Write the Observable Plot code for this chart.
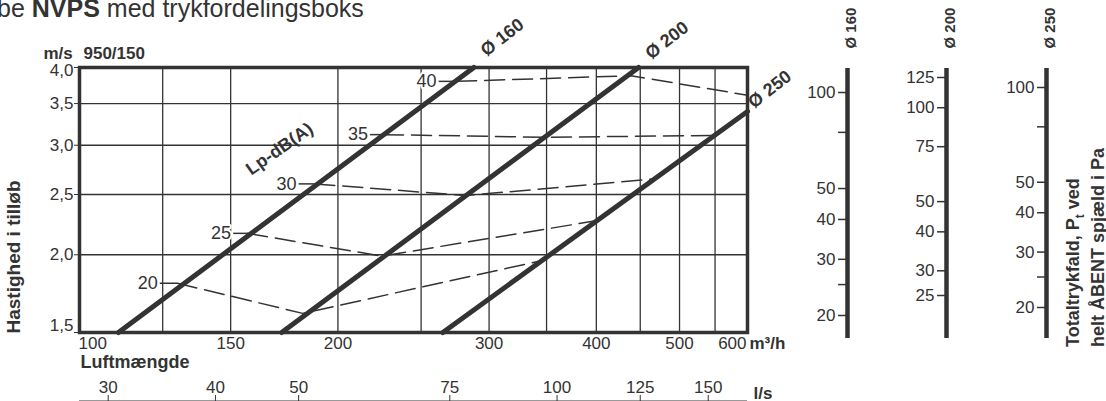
<!DOCTYPE html>
<html><head><meta charset="utf-8">
<script src="https://cdn.jsdelivr.net/npm/d3@7"></script>
<script src="https://cdn.jsdelivr.net/npm/@observablehq/plot@0.6"></script>
<style>
html,body{margin:0;padding:0;background:#fff;}
#wrap{position:relative;width:1106px;height:401px;overflow:hidden;background:#fff;font-family:"Liberation Sans",Arial,sans-serif;color:#333;}
.abs{position:absolute;}
svg{overflow:visible;}
</style></head><body>
<div id="wrap">
 <div id="title" class="abs" style="left:-3px;top:-4px;font-size:25px;line-height:25px;white-space:nowrap;">be <b>NVPS</b> med trykfordelingsboks</div>
 <div id="main" class="abs" style="left:0;top:0"></div>
 <div id="ls" class="abs" style="left:0;top:360px"></div>
 <div id="s0" class="abs" style="left:787px;top:0"></div>
 <div id="s1" class="abs" style="left:886px;top:0"></div>
 <div id="s2" class="abs" style="left:986px;top:0"></div>
 <div id="plabel" class="abs" style="left:1061px;top:347px;transform-origin:0 0;transform:rotate(-90deg);white-space:nowrap;font-weight:bold;font-size:18px;line-height:25px;">Totaltrykfald, P<sub style="font-size:12px;line-height:0">t</sub> ved<br>helt ÅBENT spjæld i Pa</div>
</div>
<script>
// ---- data ----
const xGrid = [125, 150, 200, 250, 300, 350, 400, 450, 500, 550];
const xLabels = [100, 150, 200, 300, 400, 500, 600];
const yTicks = [1.5, 2.0, 2.5, 3.0, 3.5, 4.0];
const yGrid = [2.0, 2.5, 3.0, 3.5];
const lsTicks = [30, 40, 50, 75, 100, 125, 150];

const diameters = [160, 200, 250];
const pipeQ = [[111, 288], [172, 448], [265, 600]];
const pipeV = [[1.5, 4.0], [1.5, 4.0], [1.5, 3.40]];

const lpLevels = [20, 25, 30, 35, 40];
const lpLeaderQ = [124, 151, 180, 218, 262];
const lpQ = [[130, 182, 347], [157, 225, 401], [188, 282, 469], [226, 349, 550], [275, 439, 600]];
const lpV = [[1.80, 1.61, 1.96], [2.165, 1.99, 2.27], [2.60, 2.49, 2.65], [3.12, 3.09, 3.11], [3.80, 3.88, 3.61]];

const p160Ticks = [20, 25, 30, 40, 50, 75, 100];
const p160Labels = ["20", "", "30", "40", "50", "75", "100"];
const p200Ticks = [25, 30, 40, 50, 75, 100, 125];
const p200Labels = ["25", "30", "40", "50", "75", "100", "125"];
const p250Ticks = [20, 25, 30, 40, 50, 75, 100];
const p250Labels = ["20", "", "30", "40", "50", "75", "100"];

// ---- derived tables ----
const ink = "#333";
const font = "'Liberation Sans', Arial, sans-serif";
const pipes = diameters.flatMap((d, i) => pipeQ[i].map((q, j) => ({d, q, v: pipeV[i][j]})));
const pipeTop = diameters.map((d, i) => ({d, q: pipeQ[i][1], v: pipeV[i][1]}));
const lp = lpLevels.flatMap((L, i) => lpQ[i].map((q, j) => ({L, q, v: lpV[i][j]})));
const leaders = lpLevels.map((L, i) => ({L, q1: lpLeaderQ[i], q2: lpQ[i][0], v: lpV[i][0]}));
const comma = d => d.toFixed(1).replace(".", ",");
const yMin = yTicks[0], yMax = yTicks[yTicks.length - 1];

const main = Plot.plot({
  width: 800, height: 401,
  marginLeft: 79, marginRight: 53, marginTop: 67, marginBottom: 69,
  style: {fontFamily: font, fontSize: "17px", color: ink, background: "transparent", overflow: "visible"},
  x: {type: "log", domain: [100, 600], axis: null},
  y: {type: "log", domain: [1.5, 4.0]},
  marks: [
    Plot.ruleX(xGrid, {stroke: ink, strokeWidth: 1.3}),
    Plot.ruleY(yGrid, {stroke: ink, strokeWidth: 1.3}),
    Plot.axisY(yTicks, {tickSize: 5, tickPadding: 1, tickFormat: d => (d === yMin || d === yMax) ? "" : comma(d), label: null, fontSize: 17}),
    Plot.text([yMin], {y: d => d, text: comma, frameAnchor: "left", textAnchor: "end", dx: -6, dy: -7, fontSize: 17}),
    Plot.text([yMax], {y: d => d, text: comma, frameAnchor: "left", textAnchor: "end", dx: -6, dy: 3, fontSize: 17}),
    Plot.line(lp, {x: "q", y: "v", z: "L", stroke: ink, strokeWidth: 1.5, strokeDasharray: "20,8"}),
    Plot.link(leaders, {x1: "q1", x2: "q2", y1: "v", y2: "v", stroke: ink, strokeWidth: 1.5}),
    Plot.line(pipes, {x: "q", y: "v", z: "d", stroke: ink, strokeWidth: 5}),
    Plot.frame({stroke: ink, strokeWidth: 3.5}),
    Plot.text(leaders, {x: "q1", y: "v", text: d => String(d.L), textAnchor: "end", dx: -2, fill: ink, stroke: "white", strokeWidth: 4, paintOrder: "stroke", fontSize: 18}),
    // x tick labels
    Plot.text(xLabels.filter(d => d === 100), {x: d => d, text: d => String(d), frameAnchor: "bottom", dy: 16, dx: -1, textAnchor: "start", fontSize: 17}),
    Plot.text(xLabels.filter(d => d > 100 && d < 600), {x: d => d, text: d => String(d), frameAnchor: "bottom", dy: 16, fontSize: 17}),
    Plot.text(xLabels.filter(d => d === 600), {x: d => d, text: d => String(d), frameAnchor: "bottom", dy: 16, dx: -1, textAnchor: "end", fontSize: 17}),
    Plot.text(xLabels.filter(d => d === 600), {x: d => d, text: () => "m³/h", frameAnchor: "bottom", dy: 16, dx: 2, textAnchor: "start", fontWeight: "bold", fontSize: 17}),
    Plot.text(["Luftmængde"], {text: d => d, frameAnchor: "bottom-left", dx: 1, dy: 35, textAnchor: "start", fontWeight: "bold", fontSize: 18}),
    Plot.text(["m/s"], {text: d => d, frameAnchor: "top-left", dx: -36, dy: -21, textAnchor: "start", fontWeight: "bold", fontSize: 17}),
    Plot.text(["950/150"], {text: d => d, frameAnchor: "top-left", dx: 4, dy: -21, textAnchor: "start", fontWeight: "bold", fontSize: 17}),
    Plot.text(["Hastighed i tilløb"], {text: d => d, frameAnchor: "bottom-left", rotate: -90, textAnchor: "start", dx: -60, dy: 1, fontWeight: "bold", fontSize: 19}),
    Plot.text(["Lp-dB(A)"], {x: () => 171, y: () => 2.96, text: d => d, rotate: -35, fontWeight: "bold", fontSize: 18}),
    // diameter labels
    Plot.text([pipeTop[0]], {x: "q", y: "v", text: d => "Ø " + d.d, rotate: -38, textAnchor: "start", dx: 9, dy: -15, fontWeight: "bold", fontSize: 18}),
    Plot.text([pipeTop[1]], {x: "q", y: "v", text: d => "Ø " + d.d, rotate: -38, textAnchor: "start", dx: 9, dy: -12, fontWeight: "bold", fontSize: 18}),
    Plot.text([pipeTop[2]], {x: "q", y: "v", text: d => "Ø " + d.d, rotate: -38, textAnchor: "start", dx: 3, dy: -7, fontWeight: "bold", fontSize: 18})
  ]
});
document.getElementById("main").append(main);

const ls = Plot.plot({
  width: 800, height: 60,
  marginLeft: 79, marginRight: 53, marginTop: 40, marginBottom: 0,
  style: {fontFamily: font, fontSize: "17px", color: ink, background: "transparent", overflow: "visible"},
  x: {type: "log", domain: [100, 600]},
  y: {domain: [0, 1], axis: null},
  marks: [
    Plot.ruleY([1], {stroke: ink, strokeOpacity: 0.5, strokeWidth: 1.2}),
    Plot.axisX(lsTicks.map(d => d * 3.6), {anchor: "top", tickSize: 6, tickPadding: 2, tickFormat: d => String(Math.round(d / 3.6)), label: null, fontSize: 17}),
    Plot.text([{q: 600, t: "l/s"}], {x: "q", text: "t", frameAnchor: "top", dx: 6, dy: -14, textAnchor: "start", fontWeight: "bold", fontSize: 17})
  ]
});
document.getElementById("ls").append(ls);

function scale(id, name, ticks, labels, domain, range) {
  const p = Plot.plot({
    width: 80, height: 401,
    marginLeft: 60, marginRight: 19, marginTop: 68, marginBottom: 63,
    style: {fontFamily: font, fontSize: "17px", color: ink, background: "transparent", overflow: "visible"},
    x: {domain: [0, 1], axis: null},
    y: {type: "log", domain, range},
    marks: [
      Plot.ruleX([0], {stroke: ink, strokeWidth: 4.5}),
      Plot.axisY(ticks, {anchor: "left", tickSize: 9, tickPadding: 3, strokeWidth: 1.5, tickFormat: d => labels[ticks.indexOf(d)], label: null, fontSize: 17}),
      Plot.text([name], {text: d => d, frameAnchor: "top-left", rotate: -90, textAnchor: "start", dx: -2, dy: -20, fontWeight: "bold", fontSize: 15})
    ]
  });
  document.getElementById(id).append(p);
}
scale("s0", "Ø 160", p160Ticks, p160Labels, [20, 100], [315, 92]);
scale("s1", "Ø 200", p200Ticks, p200Labels, [25, 125], [295, 77]);
scale("s2", "Ø 250", p250Ticks, p250Labels, [20, 100], [307, 87]);
</script>
</body></html>
